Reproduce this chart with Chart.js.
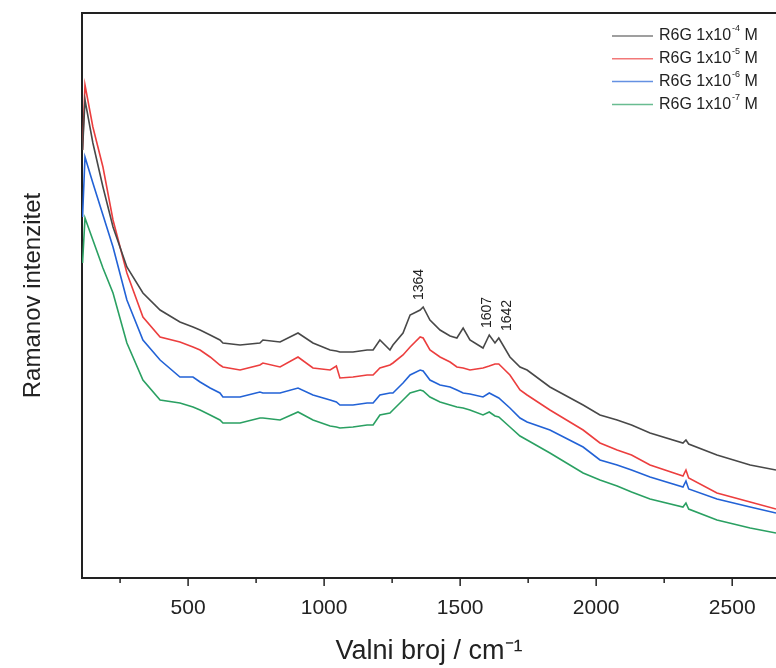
<!DOCTYPE html>
<html>
<head>
<meta charset="utf-8">
<script src="https://cdn.jsdelivr.net/npm/chart.js@4.4.0/dist/chart.umd.min.js"></script>
<style>
  html, body { margin: 0; padding: 0; background: #fff; }
  #wrap { width: 776px; height: 668px; }
</style>
</head>
<body>
<div id="wrap"><canvas id="raman-Chart" width="776" height="668"></canvas></div>
<script>
// Raman shift (cm-1) where the spectra were read
const wavenumbers = [112, 121, 150, 187, 224, 275, 334, 397, 470, 518, 544, 581, 617, 628, 691, 764, 775, 838, 904, 959,
  1022, 1045, 1058, 1106, 1158, 1180, 1205, 1242, 1253, 1290, 1316, 1353, 1364, 1389, 1426, 1463, 1488, 1511, 1536, 1584,
  1607, 1628, 1642, 1683, 1720, 1746, 1830, 1952, 2014, 2077, 2130, 2198, 2319, 2330, 2340, 2444, 2566, 2661];

// intensities (arbitrary units)
const r6g1e4 = [4280, 4780, 4350, 3910, 3510, 3110, 2850, 2680, 2560, 2510, 2480, 2430, 2380, 2350, 2330, 2350, 2380, 2360, 2450, 2350,
  2280, 2270, 2260, 2260, 2280, 2280, 2380, 2280, 2330, 2450, 2630, 2680, 2710, 2580, 2480, 2420, 2400, 2500, 2380, 2300,
  2430, 2350, 2400, 2210, 2110, 2080, 1910, 1730, 1630, 1580, 1530, 1450, 1350, 1380, 1340, 1230, 1130, 1080];
const r6g1e5 = [4280, 4930, 4510, 4110, 3580, 3050, 2610, 2410, 2360, 2310, 2280, 2210, 2130, 2110, 2080, 2130, 2150, 2110, 2210, 2100,
  2080, 2120, 2000, 2010, 2030, 2030, 2100, 2130, 2150, 2230, 2310, 2410, 2400, 2280, 2210, 2160, 2110, 2100, 2080, 2100,
  2120, 2140, 2140, 2030, 1880, 1830, 1680, 1480, 1350, 1280, 1230, 1130, 1020, 1080, 1000, 850, 760, 690];
const r6g1e6 = [3610, 4210, 3950, 3630, 3310, 2780, 2380, 2180, 2010, 2010, 1960, 1900, 1850, 1810, 1810, 1860, 1850, 1850, 1900, 1830,
  1780, 1760, 1730, 1730, 1750, 1750, 1830, 1850, 1850, 1950, 2030, 2080, 2070, 1980, 1930, 1910, 1880, 1850, 1840, 1810,
  1850, 1820, 1800, 1700, 1600, 1560, 1480, 1310, 1180, 1130, 1080, 1010, 910, 970, 890, 790, 710, 650];
const r6g1e7 = [3150, 3600, 3380, 3100, 2850, 2350, 1980, 1780, 1750, 1710, 1680, 1630, 1580, 1550, 1550, 1600, 1600, 1580, 1660, 1580,
  1520, 1510, 1500, 1510, 1530, 1530, 1630, 1650, 1680, 1780, 1850, 1880, 1870, 1810, 1760, 1730, 1710, 1700, 1680, 1630,
  1660, 1620, 1610, 1510, 1420, 1380, 1250, 1050, 980, 920, 860, 790, 710, 750, 690, 580, 500, 450];

const exponents = [-4, -5, -6, -7];
const peakLabels = [1364, 1607, 1642];
const xTicks = [500, 1000, 1500, 2000, 2500];
const minorTicks = [250, 750, 1250, 1750, 2250];

const FONT = '"Liberation Sans", Arial, sans-serif';
const INK = "#222";

const toPoints = (ys) => wavenumbers.map((x, i) => ({ x: x, y: ys[i] }));

// top frame line and the outward tick marks of the x axis
const framePlugin = {
  id: "frame",
  afterDraw(chart) {
    const { ctx, chartArea } = chart;
    const xs = chart.scales.x;
    ctx.save();
    ctx.strokeStyle = INK;
    ctx.lineWidth = 2;
    ctx.beginPath();
    ctx.moveTo(chartArea.left - 1, chartArea.top);
    ctx.lineTo(chartArea.right, chartArea.top);
    ctx.stroke();
    ctx.lineWidth = 1.5;
    xTicks.concat(minorTicks).forEach((v) => {
      const px = xs.getPixelForValue(v);
      const len = v % 500 === 0 ? 8 : 5;
      ctx.beginPath();
      ctx.moveTo(px, chartArea.bottom);
      ctx.lineTo(px, chartArea.bottom + len);
      ctx.stroke();
    });
    ctx.restore();
  },
};

// legend drawn inside the plot, top right
const legendPlugin = {
  id: "insideLegend",
  afterDraw(chart) {
    const { ctx, chartArea } = chart;
    ctx.save();
    chart.data.datasets.forEach((ds, i) => {
      const y = chartArea.top + 23 + i * 22.8;
      const x0 = chartArea.right - 164;
      ctx.strokeStyle = ds.borderColor;
      ctx.globalAlpha = 0.7;
      ctx.lineWidth = 1.5;
      ctx.beginPath();
      ctx.moveTo(x0, y);
      ctx.lineTo(x0 + 41, y);
      ctx.stroke();
      ctx.globalAlpha = 1;
      ctx.fillStyle = INK;
      ctx.textBaseline = "middle";
      ctx.textAlign = "left";
      let tx = x0 + 47;
      ctx.font = "16px " + FONT;
      ctx.fillText("R6G 1x10", tx, y);
      tx += ctx.measureText("R6G 1x10").width + 1;
      ctx.font = "9px " + FONT;
      const sup = "-" + String(-exponents[i]);
      ctx.fillText(sup, tx, y - 7);
      tx += ctx.measureText(sup).width;
      ctx.font = "16px " + FONT;
      ctx.fillText(" M", tx, y);
    });
    ctx.restore();
  },
};

// vertical labels over the main bands of the top spectrum
const peakPlugin = {
  id: "peaks",
  afterDraw(chart) {
    const { ctx } = chart;
    const xs = chart.scales.x;
    const ys = chart.scales.y;
    const offsets = [-4, -2, 8];
    ctx.save();
    ctx.fillStyle = INK;
    ctx.font = "14px " + FONT;
    ctx.textAlign = "left";
    ctx.textBaseline = "middle";
    peakLabels.forEach((p, i) => {
      const idx = wavenumbers.indexOf(p);
      const px = xs.getPixelForValue(p) + offsets[i];
      const py = ys.getPixelForValue(r6g1e4[idx]) - 7;
      ctx.save();
      ctx.translate(px, py);
      ctx.rotate(-Math.PI / 2);
      ctx.fillText(String(p), 0, 0);
      ctx.restore();
    });
    ctx.restore();
  },
};

document.addEventListener("DOMContentLoaded", () => {
  const ctx = document.getElementById("raman-Chart");
  if (!ctx) {
    console.error("Canvas element not found");
    return;
  }
  new Chart(ctx, {
    type: "line",
    data: {
      datasets: [
        { label: "R6G 1x10^-4 M", data: toPoints(r6g1e4), borderColor: "rgba(72, 72, 72, 1)" },
        { label: "R6G 1x10^-5 M", data: toPoints(r6g1e5), borderColor: "rgba(236, 62, 62, 1)" },
        { label: "R6G 1x10^-6 M", data: toPoints(r6g1e6), borderColor: "rgba(34, 98, 214, 1)" },
        { label: "R6G 1x10^-7 M", data: toPoints(r6g1e7), borderColor: "rgba(42, 160, 98, 1)" },
      ],
    },
    options: {
      responsive: false,
      animation: false,
      layout: { padding: { top: 13, right: 0, left: 0, bottom: 0 } },
      elements: {
        point: { radius: 0 },
        line: { borderWidth: 1.6, tension: 0, fill: false },
      },
      plugins: {
        legend: { display: false },
        tooltip: { enabled: false },
      },
      scales: {
        x: {
          type: "linear",
          min: 110,
          max: 2661,
          afterBuildTicks: (s) => { s.ticks = xTicks.map((v) => ({ value: v })); },
          afterFit: (s) => { s.height = 90; },
          grid: { display: false, drawTicks: false },
          border: { display: true, color: INK, width: 2 },
          ticks: {
            autoSkip: false,
            maxRotation: 0,
            padding: 18,
            color: INK,
            font: { family: FONT, size: 21 },
            callback: (v) => String(v),
          },
          title: {
            display: true,
            text: "Valni broj / cm\u207B\u00B9",
            color: INK,
            font: { family: FONT, size: 27 },
            padding: { top: 0, bottom: 0 },
          },
        },
        y: {
          min: 0,
          max: 5650,
          afterFit: (s) => { s.width = 82; },
          grid: { display: false, drawTicks: false },
          border: { display: true, color: INK, width: 2 },
          ticks: { display: false },
          title: {
            display: true,
            text: "Ramanov intenzitet",
            color: INK,
            font: { family: FONT, size: 24 },
            padding: { top: 19, bottom: 0 },
          },
        },
      },
    },
    plugins: [framePlugin, legendPlugin, peakPlugin],
  });
});
</script>
</body>
</html>
